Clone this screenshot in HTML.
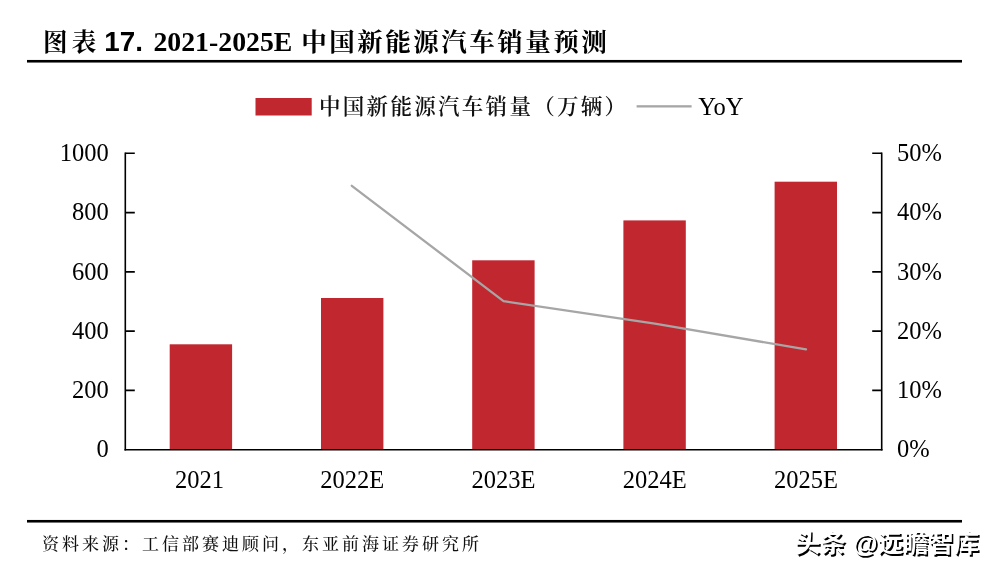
<!DOCTYPE html>
<html lang="zh-CN">
<head>
<meta charset="utf-8">
<title>图表 17. 2021-2025E 中国新能源汽车销量预测</title>
<style>
html,body{margin:0;padding:0;background:#fff;}
body{width:997px;height:574px;overflow:hidden;position:relative;}
svg{position:absolute;left:0;top:0;display:block;}
.lat{font-family:"Liberation Serif",serif;font-size:24.5px;fill:#000;}
.kai{font-family:"Liberation Serif","Noto Serif CJK SC",serif;fill:#111;}
.ttl{font-weight:700;fill:#000;}
</style>
</head>
<body>
<svg width="997" height="574" viewBox="0 0 997 574">
  <rect x="0" y="0" width="997" height="574" fill="#ffffff"/>

  <!-- title -->
  <text class="kai ttl" x="43" y="51" font-size="24.5" font-weight="900" letter-spacing="4.3">图表</text>
  <text class="ttl" x="104.3" y="51" font-size="27.8" font-family="'Liberation Sans',sans-serif">17.</text>
  <text class="ttl" x="153.4" y="51" font-size="27.8" font-family="'Liberation Serif',serif">2021-2025E</text>
  <text class="kai ttl" x="301.3" y="51.3" font-size="25.5" font-weight="900" letter-spacing="2.5">中国新能源汽车销量预测</text>
  <rect x="27" y="59.95" width="935" height="2.6" fill="#000"/>

  <!-- legend -->
  <rect x="255.5" y="98" width="56.2" height="17.5" fill="#c1272f"/>
  <text class="kai" x="319" y="114" font-size="21.5" font-weight="600" letter-spacing="2.3">中国新能源汽车销量（万辆）</text>
  <rect x="636.6" y="105.2" width="55" height="2.3" fill="#a6a6a6"/>
  <text class="lat" x="698.3" y="115">YoY</text>

  <!-- bars -->
  <g fill="#c1272f">
    <rect x="169.7" y="344.3" width="62.4" height="105.4"/>
    <rect x="321"   y="298"   width="62.4" height="151.7"/>
    <rect x="472.2" y="260.3" width="62.4" height="189.4"/>
    <rect x="623.4" y="220.4" width="62.4" height="229.3"/>
    <rect x="774.6" y="181.7" width="62.4" height="268"/>
  </g>

  <!-- YoY line -->
  <polyline points="351.8,185.8 503.5,301.2 654.8,323.7 806,349.4" fill="none" stroke="#a6a6a6" stroke-width="2.3" stroke-linejoin="round" stroke-linecap="round"/>

  <!-- axes -->
  <g stroke="#000" stroke-width="1.6" fill="none">
    <path d="M125.3,152.5 V450.5"/>
    <path d="M124.5,449.7 H882.5"/>
    <path d="M881.7,152.5 V450.5"/>
    <path d="M125.3,153.3 h9.5 M125.3,212.6 h9.5 M125.3,271.9 h9.5 M125.3,331.1 h9.5 M125.3,390.4 h9.5"/>
    <path d="M881.7,153.3 h-9.5 M881.7,212.6 h-9.5 M881.7,271.9 h-9.5 M881.7,331.1 h-9.5 M881.7,390.4 h-9.5"/>
  </g>

  <!-- left axis labels -->
  <g class="lat" text-anchor="end">
    <text x="108.8" y="161">1000</text>
    <text x="108.8" y="220.3">800</text>
    <text x="108.8" y="279.6">600</text>
    <text x="108.8" y="338.8">400</text>
    <text x="108.8" y="398.1">200</text>
    <text x="108.8" y="457.4">0</text>
  </g>
  <!-- right axis labels -->
  <g class="lat">
    <text x="897" y="161">50%</text>
    <text x="897" y="220.3">40%</text>
    <text x="897" y="279.6">30%</text>
    <text x="897" y="338.8">20%</text>
    <text x="897" y="398.1">10%</text>
    <text x="897" y="457.4">0%</text>
  </g>
  <!-- category labels -->
  <g class="lat" text-anchor="middle">
    <text x="199.5" y="488">2021</text>
    <text x="352.2" y="488">2022E</text>
    <text x="503.5" y="488">2023E</text>
    <text x="654.8" y="488">2024E</text>
    <text x="806" y="488">2025E</text>
  </g>

  <!-- footer -->
  <rect x="27" y="519.95" width="935" height="2.6" fill="#000"/>
  <text class="kai" x="42.1" y="550" font-size="17" font-weight="500" letter-spacing="3">资料来源：工信部赛迪顾问，东亚前海证券研究所</text>

  <!-- watermark -->
  <text x="795" y="552.3" font-size="25.4" font-weight="700" font-family="'Liberation Sans','Noto Sans CJK SC',sans-serif" fill="#fff" style="text-shadow:1.6px 1.5px 0.3px #000;">头条 @远瞻智库</text>
</svg>
</body>
</html>
